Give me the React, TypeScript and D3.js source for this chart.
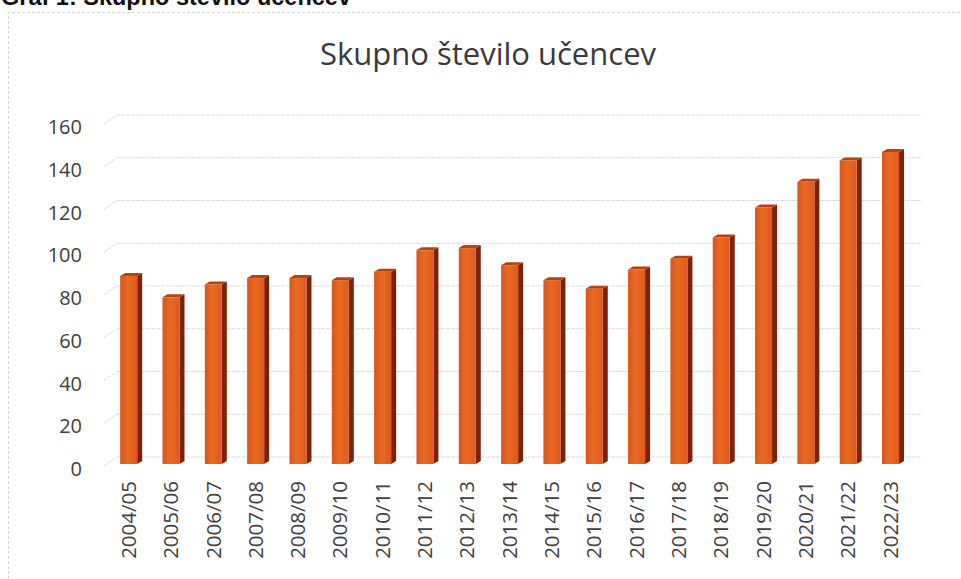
import { useEffect, useRef } from 'react'
import * as d3 from 'd3'

const YEARS = [
  '2004/05', '2005/06', '2006/07', '2007/08', '2008/09', '2009/10', '2010/11',
  '2011/12', '2012/13', '2013/14', '2014/15', '2015/16', '2016/17', '2017/18',
  '2018/19', '2019/20', '2020/21', '2021/22', '2022/23',
]
const PUPILS = [88, 78, 84, 87, 87, 86, 90, 100, 101, 93, 86, 82, 91, 96, 106, 120, 132, 142, 146]
const Y_TICKS = [0, 20, 40, 60, 80, 100, 120, 140, 160]
const TITLE = 'Skupno število učencev'
const HEADING = 'Graf 1: Skupno število učencev'

const W = 961
const H = 579

export default function App(): JSX.Element {
  const ref = useRef<SVGSVGElement>(null)

  useEffect(() => {
    if (!ref.current) return
    const svg = d3.select(ref.current)
    svg.selectAll('*').remove()

    const x = d3.scaleBand<string>().domain(YEARS).range([107.5, 911.7]).padding(0)
    const y = d3.scaleLinear().domain([0, 160]).range([457, 115])

    // 3d offsets
    const depthX = 5, depthY = 3 // bar depth
    const frontDy = 7 // front plane sits below back wall
    const barW = 17

    const defs = svg.append('defs')
    const grad = defs.append('linearGradient').attr('id', 'front').attr('x1', 0).attr('x2', 1)
    grad.append('stop').attr('offset', '0%').attr('stop-color', '#d8561a')
    grad.append('stop').attr('offset', '45%').attr('stop-color', '#ea6a24')
    grad.append('stop').attr('offset', '100%').attr('stop-color', '#dc5a1c')

    // heading of the page, cut off at the top like in the scan
    svg.append('text')
      .attr('x', 1).attr('y', 5)
      .attr('font-family', 'Liberation Sans, Arial, sans-serif')
      .attr('font-weight', 'bold')
      .attr('font-size', 23.5)
      .attr('fill', '#111')
      .text(HEADING)

    // chart frame
    svg.append('path')
      .attr('d', `M8.5,${H} V12.5 H${W}`)
      .attr('fill', 'none')
      .attr('stroke', '#d4d4d4')
      .attr('stroke-width', 1)
      .attr('stroke-dasharray', '3,2')

    svg.append('text')
      .attr('x', 488).attr('y', 65)
      .attr('text-anchor', 'middle')
      .attr('font-family', 'Open Sans, sans-serif')
      .attr('font-size', 31)
      .attr('fill', '#3a3a3a')
      .text(TITLE)

    // grid on back wall + floor slant
    const grid = svg.append('g')
    Y_TICKS.forEach(t => {
      const yy = y(t)
      grid.append('path')
        .attr('d', `M104,${yy + 9} L117,${yy} H922`)
        .attr('fill', 'none')
        .attr('stroke', '#dedada')
        .attr('stroke-width', 1)
        .attr('stroke-dasharray', '4,1')
    })

    svg.append('g')
      .selectAll('text')
      .data(Y_TICKS)
      .join('text')
      .attr('x', 82)
      .attr('y', d => y(d) + 12)
      .attr('dy', '0.35em')
      .attr('text-anchor', 'end')
      .attr('font-family', 'Open Sans, sans-serif')
      .attr('font-size', 20)
      .attr('fill', '#404040')
      .text(d => d)

    // bars
    const bars = svg.append('g')
      .selectAll('g')
      .data(YEARS.map((yr, i) => ({ yr, v: PUPILS[i] })))
      .join('g')

    bars.each(function (d) {
      const g = d3.select(this)
      const cx = (x(d.yr) ?? 0) + x.bandwidth() / 2
      const x0 = cx - barW / 2
      const x1 = x0 + barW
      const yt = y(d.v) + frontDy
      const yb = y(0) + frontDy
      g.append('path')
        .attr('d', `M${x1},${yt} L${x1 + depthX},${yt - depthY} V${yb - depthY} L${x1},${yb} Z`)
        .attr('fill', '#7e2207')
      g.append('path')
        .attr('d', `M${x0},${yt} L${x0 + depthX},${yt - depthY} H${x1 + depthX} L${x1},${yt} Z`)
        .attr('fill', '#b6430f')
      g.append('rect')
        .attr('x', x0).attr('y', yt)
        .attr('width', barW).attr('height', yb - yt)
        .attr('fill', 'url(#front)')
    })

    // category labels
    svg.append('g')
      .selectAll('text')
      .data(YEARS)
      .join('text')
      .attr('transform', d => `translate(${(x(d) ?? 0) + x.bandwidth() / 2},481) rotate(-90)`)
      .attr('dy', '0.35em')
      .attr('text-anchor', 'end')
      .attr('font-family', 'Open Sans, sans-serif')
      .attr('font-size', 20.5)
      .attr('fill', '#404040')
      .text(d => d)
  }, [])

  return (
    <svg
      ref={ref}
      width={W}
      height={H}
      viewBox={`0 0 ${W} ${H}`}
      style={{ position: 'absolute', left: 0, top: 0, background: '#fff' }}
    />
  )
}
